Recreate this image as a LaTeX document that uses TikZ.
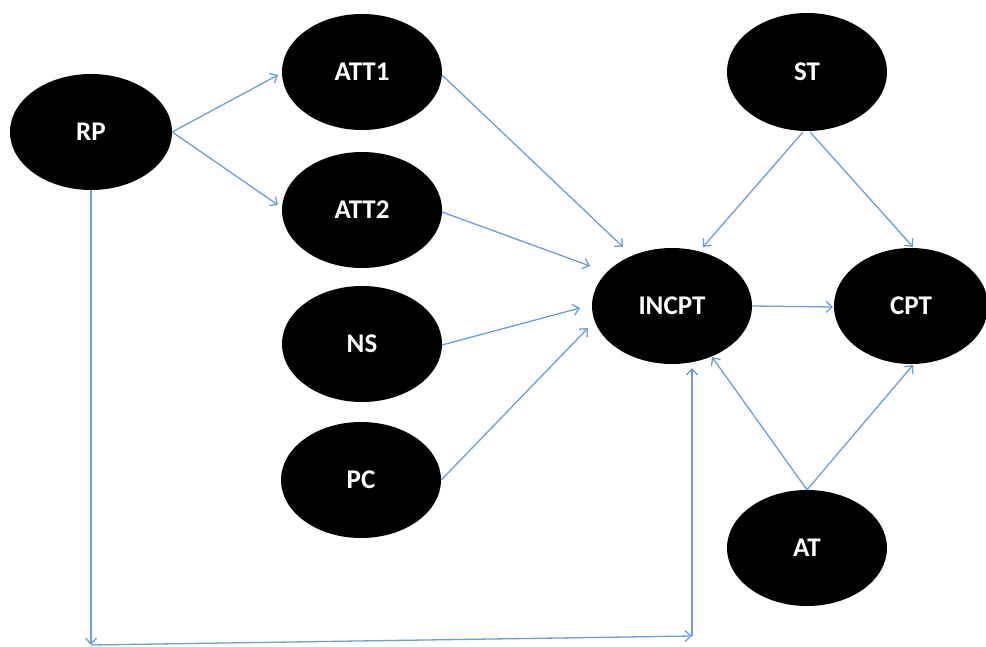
\documentclass[tikz,border=0pt]{standalone}
\usepackage{fontspec}
\setmainfont{Carlito}
\usetikzlibrary{shapes.geometric,arrows.meta,calc}
\definecolor{arrowblue}{RGB}{105,160,215}
\begin{document}
\begin{tikzpicture}[x=1pt,y=-1pt,
  blob/.style={ellipse, fill=black, draw=none, inner sep=0pt,
    minimum width=160pt, minimum height=116pt,
    text=white, font=\fontsize{27}{30}\selectfont\bfseries},
  arr/.style={draw=arrowblue, line width=1.3pt,
    -{Straight Barb[length=6pt,width=11pt,line width=1.3pt]}}]
\path[use as bounding box] (0,0) rectangle (986,647);
\fill[white] (0,0) rectangle (986,647);

\node[blob, minimum width=162pt] (RP) at (91,132) {RP};
\node[blob] (ATT1) at (362,72) {ATT1};
\node[blob] (ATT2) at (362,210) {ATT2};
\node[blob] (NS) at (362,344) {NS};
\node[blob] (PC) at (361,480) {PC};
\node[blob] (INCPT) at (672,306) {INCPT};
\node[blob, minimum height=118pt] (ST) at (807,72) {ST};
\node[blob, minimum width=154pt] (CPT) at (911,306) {CPT};
\node[blob] (AT) at (807,548) {AT};

\coordinate (c1) at (91,645);
\coordinate (c2) at (692,636);

\draw[arr] (RP.east) -- ($(ATT1)+(-84,3)$);
\draw[arr] (RP.east) -- ($(ATT2)+(-84,-5)$);
\draw[arr] ($(ATT1)+(80,3)$) -- ($(INCPT)+(-49,-59)$);
\draw[arr] ($(ATT2)+(80,2)$) -- ($(INCPT)+(-82,-40)$);
\draw[arr] ($(NS)+(80,1)$) -- ($(INCPT)+(-92,2)$);
\draw[arr] (PC.east) -- ($(INCPT)+(-84,22)$);
\draw[arr] ($(ST)+(-4,60)$) -- ($(INCPT)+(31,-59)$);
\draw[arr] ($(ST)+(3,60)$) -- ($(CPT)+(2,-59)$);
\draw[arr] (INCPT.east) -- ($(CPT)+(-78,1)$);
\draw[arr] (AT.north) -- ($(INCPT)+(40,51)$);
\draw[arr] (AT.north) -- ($(CPT)+(2,59)$);
\draw[arr] (RP.south) -- (c1);
\draw[arr] (c1) -- (c2);
\draw[arr] (c2) -- ($(INCPT)+(20,62)$);
\end{tikzpicture}
\end{document}
